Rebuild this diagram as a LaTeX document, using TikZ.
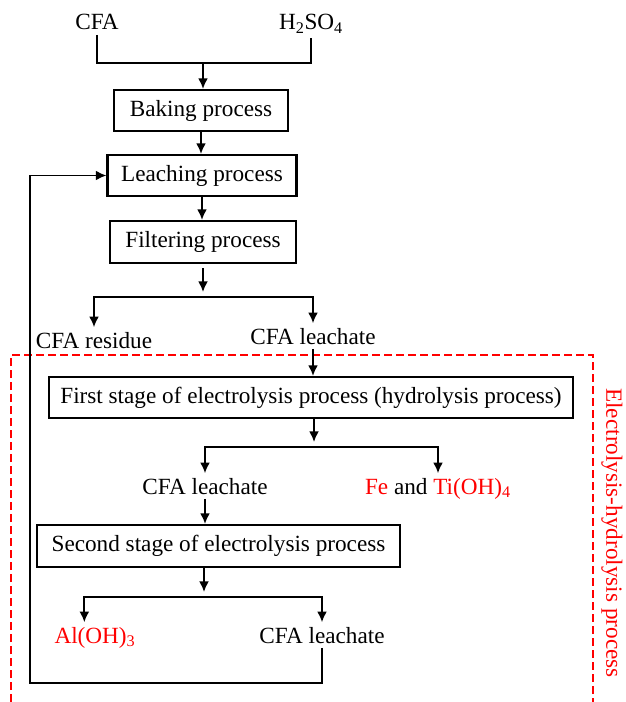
\documentclass[tikz,border=0pt]{standalone}
\usepackage{fontspec}
\setmainfont{Liberation Serif}
\usetikzlibrary{arrows.meta}
\definecolor{procred}{RGB}{255,0,0}

\begin{document}
\begin{tikzpicture}[x=0.75pt,y=0.75pt,yscale=-1,xscale=1,
  font=\fontsize{17.4}{20}\selectfont,
  procbox/.style={draw,line width=1.6pt,inner sep=0pt,minimum height=30.75pt},
  link/.style={line width=1.4pt},
  flow/.style={link,-{Latex[length=8pt,width=7.5pt]}},
  redframe/.style={draw=procred,line width=0.9pt,dash pattern=on 6pt off 3pt}]
\useasboundingbox (0,0) rectangle (625,702);
% feed
\node [anchor=base] (cfa) at (97,30) {CFA};
\node [anchor=base] (acid) at (311,30) {H\textsubscript{2}SO\textsubscript{4}};
% acid leaching
\node [procbox,minimum width=130.5pt] (bake) at (201,110.5) {Baking process};
\node [procbox,minimum width=141.75pt] (leach) at (202,175.5) {Leaching process};
\node [procbox,minimum width=139.5pt,minimum height=31.5pt] (filter) at (203,242) {Filtering process};
\node [anchor=base] (residue) at (94,348) {CFA residue};
\node [anchor=base] (leach1) at (313,344) {CFA leachate};
% electrolysis-hydrolysis
\node [procbox,minimum width=393pt] (stage1) at (311,397.5) {First stage of electrolysis process (hydrolysis process)};
\node [anchor=base] (leach2) at (205,494) {CFA leachate};
\node [anchor=base] (fe) at (438,494) {\textcolor{procred}{Fe} and \textcolor{procred}{Ti(OH)\textsubscript{4}}};
\node [procbox,minimum width=272.25pt,minimum height=31.5pt] (stage2) at (218.5,546) {Second stage of electrolysis process};
\node [anchor=base,text=procred] (aloh) at (95,643) {Al(OH)\textsubscript{3}};
\node [anchor=base] (leach3) at (322,643) {CFA leachate};
\node [rotate=-90,text=procred,inner sep=1pt] (elab) at (612,533) {Electrolysis-hydrolysis process};
\draw [redframe] (11,702) |- (593,355) -- (593,702);

\coordinate (jtop) at (203,63);
\coordinate (jfil) at (203,297);
\coordinate (jst1) at (314,447);
\coordinate (jst2) at (204,597);
\coordinate (fbc) at (30,683);

\draw [link] (cfa.south) |- (jtop) -| (acid.south);
\draw [flow] (jtop) -- (jtop |- bake.north);
\draw [flow] (bake.south) -- (bake.south |- leach.north);
\draw [flow] (leach.south) -- (leach.south |- filter.north);
\draw [flow,shorten <=3pt,shorten >=3.75pt] (filter.south) -- (filter.south |- jfil);
\draw [flow] (jfil) -| (residue.north);
\draw [flow] (jfil) -| (leach1.north);
\draw [flow] (leach1.south) -- (leach1.south |- stage1.north);
\draw [flow,shorten >=3.75pt] (stage1.south -| jst1) -- (jst1);
\draw [flow] (jst1) -| (leach2.north);
\draw [flow] (jst1) -| (fe.north);
\draw [flow] (leach2.south) -- (leach2.south |- stage2.north);
\draw [flow,shorten >=3.75pt] (stage2.south -| jst2) -- (jst2);
\draw [flow] (jst2) -| ([xshift=-8pt]aloh.north);
\draw [flow] (jst2) -| (leach3.north);
\draw [flow] (leach3.south) |- (fbc) |- (leach.west);
\end{tikzpicture}
\end{document}
